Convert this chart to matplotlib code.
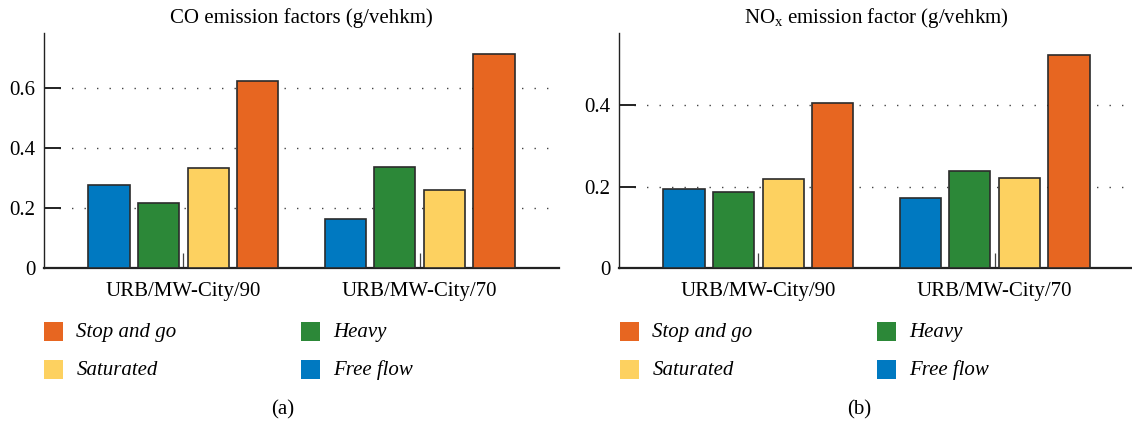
import numpy as np
import matplotlib
matplotlib.use("Agg")
import matplotlib.pyplot as plt
from matplotlib.patches import Rectangle

plt.rcParams["font.family"] = ["Liberation Serif", "DejaVu Serif"]
plt.rcParams["mathtext.fontset"] = "custom"
plt.rcParams["mathtext.rm"] = "Liberation Serif"
plt.rcParams["mathtext.it"] = "Liberation Serif:italic"

# Road-type / speed-limit groups
groups = ["URB/MW-City/90", "URB/MW-City/70"]

# Traffic conditions, in bar order within each group
conditions = ["Free flow", "Heavy", "Saturated", "Stop and go"]
colors = ["#0079C1", "#2C8838", "#FDD160", "#E76621"]

# CO emission factors (g/vehkm): one list per condition, values per group
co_free_flow = [0.277, 0.164]
co_heavy = [0.218, 0.336]
co_saturated = [0.334, 0.259]
co_stop_and_go = [0.623, 0.712]

# NOx emission factors (g/vehkm)
nox_free_flow = [0.193, 0.173]
nox_heavy = [0.187, 0.239]
nox_saturated = [0.218, 0.222]
nox_stop_and_go = [0.405, 0.524]

co_yticks = [0, 0.2, 0.4, 0.6]
nox_yticks = [0, 0.2, 0.4]

# Legend order (two columns)
legend_order = ["Stop and go", "Heavy", "Saturated", "Free flow"]

W, H = 1132, 426
fig = plt.figure(figsize=(W / 100, H / 100), dpi=100)


def fx(px):
    return px / W


def fy(py):
    return 1 - py / H


def panel(left_px, series, yticks, ymax, title, caption, cap_x, leg_x):
    ax = fig.add_axes([fx(left_px), fy(268), fx(515), 235 / H])
    x = np.arange(len(groups))
    step, width = 0.21, 0.174
    offsets = (np.arange(len(conditions)) - 1.5) * step
    for vals, off, col in zip(series, offsets, colors):
        ax.bar(x + off, vals, width, color=col, edgecolor="#2b2b2b",
               linewidth=1.2, zorder=3)
    ax.set_xlim(-0.59, 1.59)
    ax.set_ylim(0, ymax)
    ax.set_yticks(yticks)
    ax.set_yticklabels(["0" if t == 0 else f"{t:.1f}" for t in yticks])
    ax.set_xticks(x)
    ax.set_xticklabels(groups)
    for t in yticks[1:]:
        ax.axhline(t, xmin=0.03, color="#444444", linewidth=1.0,
                   linestyle=(0, (1, 8)), zorder=1)
    for s in ["top", "right"]:
        ax.spines[s].set_visible(False)
    ax.spines["left"].set_linewidth(1.0)
    ax.spines["left"].set_color("#222222")
    ax.spines["bottom"].set_linewidth(1.6)
    ax.spines["bottom"].set_color("#222222")
    ax.tick_params(axis="y", direction="in", length=12, width=1.4,
                   color="#222222", labelsize=15, pad=6)
    ax.tick_params(axis="x", direction="in", length=11, width=0.9,
                   color="#444444", labelsize=15, pad=10)
    ax.set_title(title, fontsize=15, pad=7)

    # legend: colour squares with italic labels, two columns
    cols = [leg_x, leg_x + 257]
    rows = [331.5, 369.5]
    for i, name in enumerate(legend_order):
        cx = cols[i % 2]
        cy = rows[i // 2]
        col = colors[conditions.index(name)]
        fig.add_artist(Rectangle((fx(cx), fy(cy + 9.3)), fx(19), 18.6 / H,
                                 transform=fig.transFigure, facecolor=col,
                                 edgecolor="none"))
        fig.text(fx(cx + 32.5), fy(cy + 1), name, fontsize=15,
                 style="italic", va="center", ha="left")
    fig.text(fx(cap_x), fy(410), caption, fontsize=15, ha="center",
             va="center")
    return ax


panel(44, [co_free_flow, co_heavy, co_saturated, co_stop_and_go],
      co_yticks, 0.783, "CO emission factors (g/vehkm)", "(a)", 283, 44)
panel(619, [nox_free_flow, nox_heavy, nox_saturated, nox_stop_and_go],
      nox_yticks, 0.577, r"NO$_\mathrm{x}$ emission factor (g/vehkm)",
      "(b)", 859, 620)

fig.savefig("out.png", dpi=100)
